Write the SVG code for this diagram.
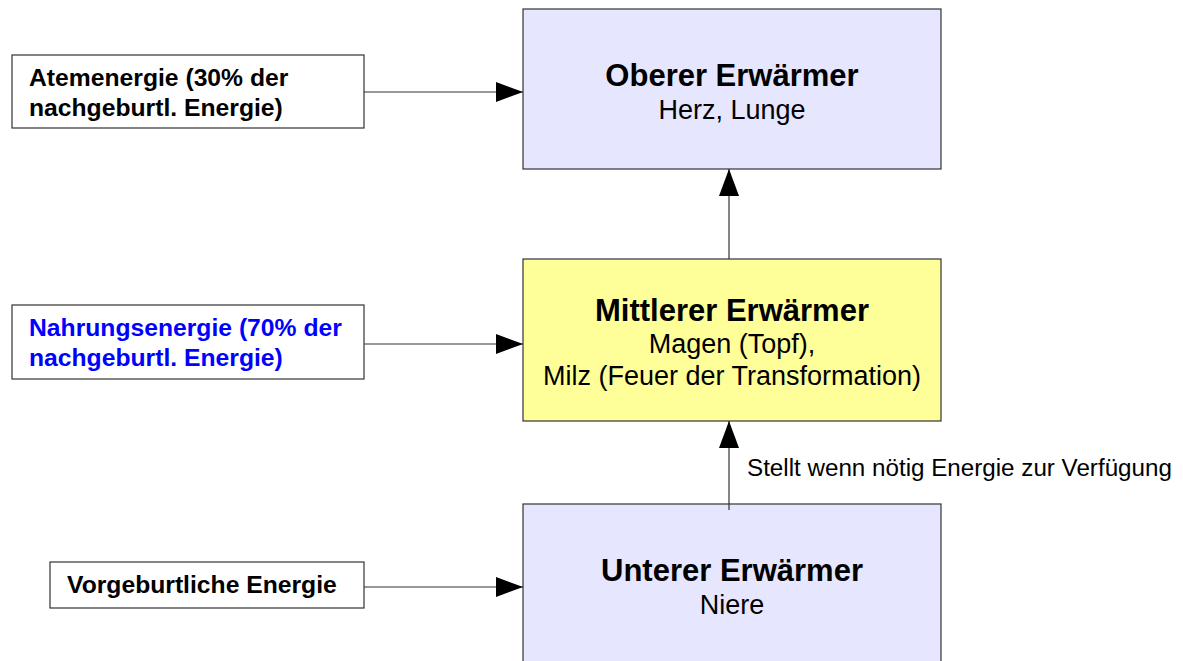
<svg xmlns="http://www.w3.org/2000/svg" width="1183" height="661" viewBox="0 0 1183 661">
<style>
.box{stroke:#333;stroke-width:1.2}
.big{fill:#e6e6ff}
.mid{fill:#ffff99}
.src{fill:#fff}
text{font-family:"Liberation Sans",Arial,sans-serif;fill:#000}
.t{font-size:31px;font-weight:bold;text-anchor:middle}
.s{font-size:27px;text-anchor:middle}
.l{font-size:24.7px;font-weight:bold}
.lbl{font-size:24.2px}
.blue{fill:#0000ff}
.con{stroke:#333;stroke-width:1.2;fill:none}
</style>
<defs>
<marker id="ah" markerWidth="27" markerHeight="20" refX="27" refY="10" orient="auto" markerUnits="userSpaceOnUse">
<path d="M0,0 L27,10 L0,20 Z" fill="#000"/>
</marker>
</defs>
<rect width="1183" height="661" fill="#fff"/>
<g id="oberer">
<rect class="box big" x="523" y="9" width="418" height="160"/>
<text class="t" x="732" y="86">Oberer Erwärmer</text>
<text class="s" x="732" y="119">Herz, Lunge</text>
</g>
<g id="mittlerer">
<rect class="box mid" x="523" y="259" width="418" height="162"/>
<text class="t" x="732" y="321">Mittlerer Erwärmer</text>
<text class="s" x="732" y="353">Magen (Topf),</text>
<text class="s" x="732" y="385">Milz (Feuer der Transformation)</text>
</g>
<g id="unterer">
<rect class="box big" x="523" y="504" width="418" height="170"/>
<text class="t" x="732" y="581">Unterer Erwärmer</text>
<text class="s" x="732" y="614">Niere</text>
</g>
<g id="atem">
<rect class="box src" x="12" y="55" width="352" height="73"/>
<text class="l" x="29" y="86">Atemenergie (30% der</text>
<text class="l" x="29" y="116">nachgeburtl. Energie)</text>
</g>
<g id="nahrung">
<rect class="box src" x="12" y="305" width="352" height="74"/>
<text class="l blue" x="29" y="336">Nahrungsenergie (70% der</text>
<text class="l blue" x="29" y="366">nachgeburtl. Energie)</text>
</g>
<g id="vorgeburt">
<rect class="box src" x="50" y="562" width="314" height="46"/>
<text class="l" x="67" y="593">Vorgeburtliche Energie</text>
</g>
<g id="connectors">
<line class="con" x1="364" y1="92" x2="523" y2="92" marker-end="url(#ah)"/>
<line class="con" x1="364" y1="344" x2="523" y2="344" marker-end="url(#ah)"/>
<line class="con" x1="364" y1="587" x2="523" y2="587" marker-end="url(#ah)"/>
<line class="con" x1="729" y1="259" x2="729" y2="169" marker-end="url(#ah)"/>
<line class="con" x1="729" y1="510" x2="729" y2="421" marker-end="url(#ah)"/>
<text class="lbl" x="747" y="476">Stellt wenn nötig Energie zur Verfügung</text>
</g>
</svg>
